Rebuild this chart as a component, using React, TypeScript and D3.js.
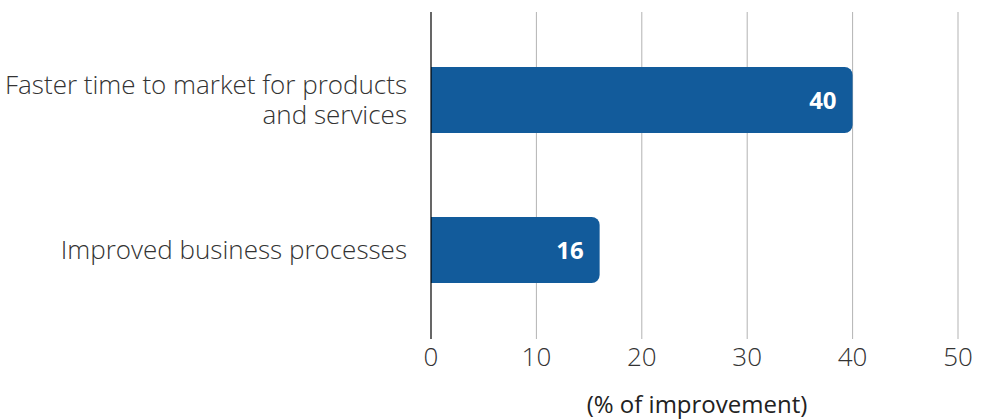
import React from 'react';
import * as d3 from 'd3';

const categories = ['Faster time to market for products|and services', 'Improved business processes'];
const values = [40, 16];
const ticks = [0, 10, 20, 30, 40, 50];
const axisTitle = '(% of improvement)';

const width = 985;
const height = 419;
const barColor = '#125b9b';
const font = '"Open Sans", "Noto Sans", sans-serif';

function App() {
  const x = d3.scaleLinear().domain([0, 50]).range([431, 958]);
  const y = d3
    .scaleBand<string>()
    .domain(categories)
    .range([25, 325])
    .paddingInner(0.56)
    .paddingOuter(0.28);

  const r = 8;
  const barPath = (v: number, top: number, h: number) => {
    const x0 = x(0);
    const x1 = x(v);
    const p = d3.path();
    p.moveTo(x0, top);
    p.lineTo(x1 - r, top);
    p.arcTo(x1, top, x1, top + r, r);
    p.lineTo(x1, top + h - r);
    p.arcTo(x1, top + h, x1 - r, top + h, r);
    p.lineTo(x0, top + h);
    p.closePath();
    return p.toString();
  };

  return (
    <svg
      width={width}
      height={height}
      style={{ position: 'absolute', left: 0, top: 0, background: '#fff' }}
      fontFamily={font}
    >
      {/* grid */}
      {ticks.slice(1).map(t => (
        <line key={t} x1={x(t)} x2={x(t)} y1={12} y2={339} stroke="#b3b3b3" strokeWidth={1} />
      ))}

      {/* bars */}
      {categories.map((c, i) => {
        const top = y(c) as number;
        const h = y.bandwidth();
        return (
          <g key={c}>
            <path d={barPath(values[i], top, h)} fill={barColor} />
            <text
              x={x(values[i]) - 16}
              y={top + h / 2}
              dy="0.36em"
              textAnchor="end"
              fill="#fff"
              fontWeight={700}
              fontSize={24}
            >
              {values[i]}
            </text>
          </g>
        );
      })}

      {/* axis line at 0 */}
      <line x1={x(0)} x2={x(0)} y1={12} y2={339} stroke="#000" strokeWidth={1.2} />

      {/* category labels */}
      {categories.map(c => {
        const lines = c.split('|');
        const cy = (y(c) as number) + y.bandwidth() / 2;
        const lh = 30;
        const start = cy - ((lines.length - 1) * lh) / 2;
        return (
          <text key={c} textAnchor="end" fill="#333" fontSize={26} fontWeight={300}>
            {lines.map((l, j) => (
              <tspan key={j} x={407} y={start + j * lh} dy="0.36em">
                {l}
              </tspan>
            ))}
          </text>
        );
      })}

      {/* tick labels */}
      {ticks.map(t => (
        <text
          key={t}
          x={x(t)}
          y={357}
          dy="0.36em"
          textAnchor="middle"
          fill="#333"
          fontSize={26}
          fontWeight={300}
        >
          {t}
        </text>
      ))}

      {/* axis title */}
      <text x={697} y={413} textAnchor="middle" fill="#222" fontSize={24}>
        {axisTitle}
      </text>
    </svg>
  );
}

export default App;
